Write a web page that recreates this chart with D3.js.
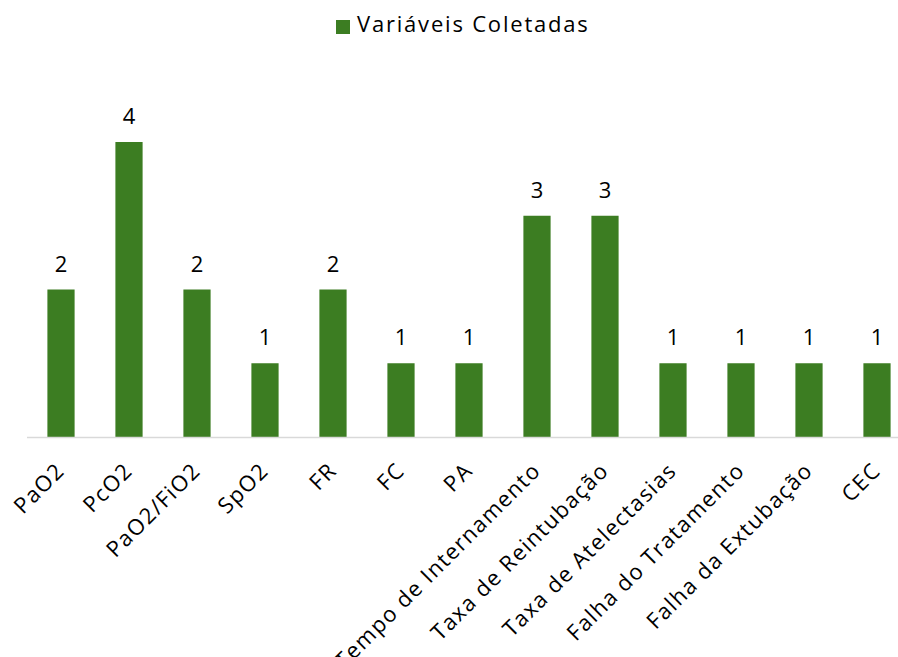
<!DOCTYPE html>
<html>
<head>
<meta charset="utf-8">
<script src="https://cdn.jsdelivr.net/npm/d3@7"></script>
<style>
  body { margin: 0; background: #fff; }
  text { font-family: "Open Sans", sans-serif; fill: #000; }
</style>
</head>
<body>
<div id="chart"></div>
<script>
// chart data
const categories = ["PaO2", "PcO2", "PaO2/FiO2", "SpO2", "FR", "FC", "PA",
  "Tempo de Internamento", "Taxa de Reintubação", "Taxa de Atelectasias",
  "Falha do Tratamento", "Falha da Extubação", "CEC"];
const values = [2, 4, 2, 1, 2, 1, 1, 3, 3, 1, 1, 1, 1];
const seriesName = "Variáveis Coletadas";

const width = 898, height = 657;
const svg = d3.select("#chart").append("svg")
  .attr("width", width)
  .attr("height", height);

const x = d3.scaleBand()
  .domain(categories)
  .range([27, 911])
  .paddingInner(0.6)
  .paddingOuter(0.3);

const y = d3.scaleLinear()
  .domain([0, 4])
  .range([437, 142]);

const color = "#3c7d22";

// bars
svg.selectAll(".bar")
  .data(values)
  .enter()
  .append("rect")
  .attr("class", "bar")
  .attr("x", (d, i) => x(categories[i]))
  .attr("y", d => y(d))
  .attr("width", x.bandwidth())
  .attr("height", d => y(0) - y(d))
  .attr("fill", color);

// value labels
svg.selectAll(".val")
  .data(values)
  .enter()
  .append("text")
  .attr("class", "val")
  .attr("x", (d, i) => x(categories[i]) + x.bandwidth() / 2)
  .attr("y", d => y(d) - 18)
  .attr("text-anchor", "middle")
  .style("font-size", "22px")
  .text(d => d);

// axis line
svg.append("line")
  .attr("x1", 27).attr("x2", 898)
  .attr("y1", y(0) + 0.5).attr("y2", y(0) + 0.5)
  .attr("stroke", "#d9d9d9")
  .attr("stroke-width", 1.5);

// category labels
svg.selectAll(".cat")
  .data(categories)
  .enter()
  .append("text")
  .attr("class", "cat")
  .attr("transform", d => `translate(${x(d) + x.bandwidth() / 2 + 5},${y(0) + 35}) rotate(-45)`)
  .attr("text-anchor", "end")
  .style("font-size", "22px")
  .style("letter-spacing", "1.4px")
  .text(d => d);

// legend
const legend = svg.append("g").attr("transform", "translate(336,20)");
legend.append("rect")
  .attr("width", 14).attr("height", 14)
  .attr("fill", color);
legend.append("text")
  .attr("x", 21).attr("y", 12)
  .style("font-size", "22px")
  .style("letter-spacing", "1.8px")
  .text(seriesName);
</script>
</body>
</html>
